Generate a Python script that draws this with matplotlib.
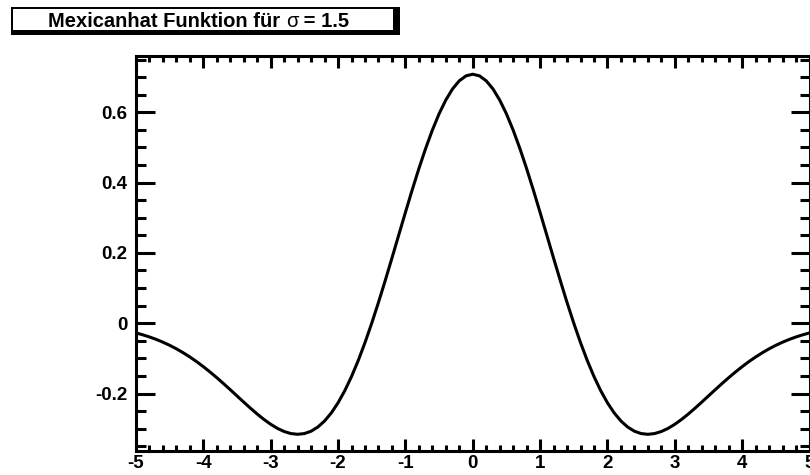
import numpy as np
import matplotlib
matplotlib.use("Agg")
import matplotlib.pyplot as plt
from matplotlib.patches import Rectangle
from matplotlib.text import Annotation
from matplotlib.ticker import MultipleLocator

# Werte der Kurve (symmetrisch um x=0), Schritt 0.1
x_half = [0.0, 0.1, 0.2, 0.3, 0.4, 0.5, 0.6, 0.7, 0.8, 0.9,
          1.0, 1.1, 1.2, 1.3, 1.4, 1.5, 1.6, 1.7, 1.8, 1.9,
          2.0, 2.1, 2.2, 2.3, 2.4, 2.5, 2.6, 2.7, 2.8, 2.9,
          3.0, 3.1, 3.2, 3.3, 3.4, 3.5, 3.6, 3.7, 3.8, 3.9,
          4.0, 4.1, 4.2, 4.3, 4.4, 4.5, 4.6, 4.7, 4.8, 4.9, 5.0]
y_half = [0.7082, 0.7035, 0.6894, 0.6664, 0.6348, 0.5955, 0.5491, 0.4968,
          0.4396, 0.3786, 0.3150, 0.2502, 0.1851, 0.1211, 0.0590, 0.0000,
          -0.0552, -0.1060, -0.1517, -0.1919, -0.2264, -0.2552, -0.2781,
          -0.2953, -0.3072, -0.3139, -0.3160, -0.3139, -0.3081, -0.2992,
          -0.2875, -0.2738, -0.2584, -0.2418, -0.2245, -0.2069, -0.1892,
          -0.1719, -0.1550, -0.1389, -0.1236, -0.1093, -0.0961, -0.0840,
          -0.0729, -0.0629, -0.0540, -0.0461, -0.0391, -0.0330, -0.0277]

x = [-v for v in x_half[:0:-1]] + x_half
y = y_half[:0:-1] + y_half

xticks = [-5, -4, -3, -2, -1, 0, 1, 2, 3, 4, 5]
yticks = [-0.2, 0, 0.2, 0.4, 0.6]
ylabels = ["-0.2", "0", "0.2", "0.4", "0.6"]
title_a = "Mexicanhat Funktion für "
title_b = "σ"
title_c = " = 1.5"

plt.rcParams['font.family'] = ['Liberation Sans', 'DejaVu Sans']

W, H = 810, 475
fig = plt.figure(figsize=(W / 100, H / 100), dpi=100)
ax = fig.add_axes([136 / W, 1 - 451 / H, (809.5 - 136) / W, (451 - 56) / H])

ax.plot(x, y, color='black', lw=2.2, solid_joinstyle='round')
ax.set_xlim(-5, 5)
ax.set_ylim(-0.3635, 0.760)

ax.xaxis.set_minor_locator(MultipleLocator(0.2))
ax.yaxis.set_minor_locator(MultipleLocator(0.05))
ax.set_xticks(xticks)
ax.set_xticklabels([str(t) for t in xticks])
ax.set_yticks(yticks)
ax.set_yticklabels(ylabels)

ax.tick_params(axis='both', which='both', direction='in', width=2.2,
               top=True, right=True, labelsize=13.5)
ax.tick_params(axis='x', which='major', length=8.5, pad=3)
ax.tick_params(axis='x', which='minor', length=4.5)
ax.tick_params(axis='y', which='major', length=14, pad=6)
ax.tick_params(axis='y', which='minor', length=7)
for lab in ax.get_xticklabels() + ax.get_yticklabels():
    lab.set_fontweight('bold')
for s in ax.spines.values():
    s.set_linewidth(2.2)

# Titelbox mit Schatten
fig.patches.append(Rectangle((11 / W, 1 - 35 / H), 389 / W, 28 / H,
                             transform=fig.transFigure, facecolor='black',
                             edgecolor='none', zorder=1))
fig.patches.append(Rectangle((13 / W, 1 - 30 / H), 380 / W, 21 / H,
                             transform=fig.transFigure, facecolor='white',
                             edgecolor='none', zorder=2))
t1 = fig.text(48 / W, 1 - 31 / H, title_a, fontsize=14.5, fontweight='bold',
              ha='left', va='bottom', zorder=5)
t2 = fig.add_artist(Annotation(title_b, xy=(1, 0), xycoords=t1,
                               fontsize=14.5, ha='left', va='bottom',
                               annotation_clip=False, zorder=5))
t3 = fig.add_artist(Annotation(title_c, xy=(1, 0), xycoords=t2,
                               fontsize=14.5, fontweight='bold', ha='left',
                               va='bottom', annotation_clip=False, zorder=5))

fig.savefig("out.png", dpi=100)
